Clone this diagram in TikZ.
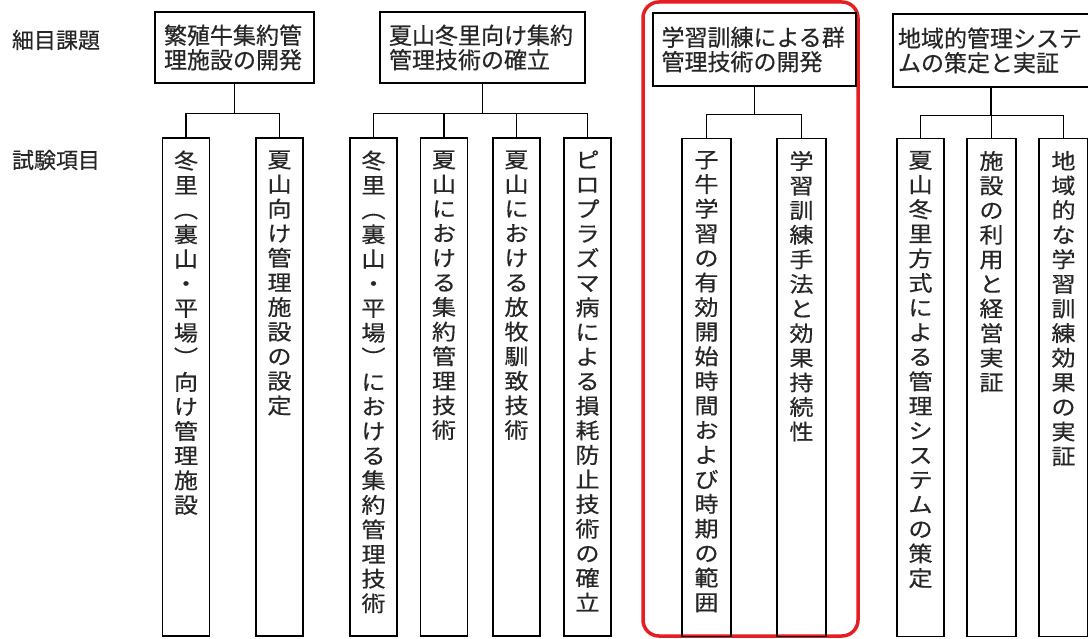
\documentclass[tikz,border=0pt]{standalone}
\usepackage{fontspec}
\setmainfont[FakeBold=0.4]{Noto Sans CJK JP}
\newfontfamily\vfont[FakeStretch=1.12,FakeBold=0.4]{Noto Sans CJK JP}
\let\vtend\relax
\def\vtaux#1{\ifx#1\vtend\else\hbox to 24pt{\hss#1\hss}\expandafter\vtaux\fi}
\newcommand\vt[1]{\vbox{\baselineskip=24.6pt\lineskiplimit=-100pt\lineskip=0pt\vtaux#1\vtend}}
\definecolor{hlred}{RGB}{230,30,36}
\begin{document}
\begin{tikzpicture}[x=1pt,y=-1pt,
  titlebox/.style={draw, line width=1.4pt, inner sep=0pt, align=left,
    font=\fontsize{23}{24.5}\selectfont, text=black!85},
  itembox/.style={draw, line width=1.4pt, inner sep=0pt, minimum width=47pt, minimum height=498pt},
  vtxt/.style={inner sep=0pt, anchor=north, font=\vfont\fontsize{21.5}{24.6}\selectfont, text=black!85},
  rowlabel/.style={inner sep=0pt, font=\fontsize{22}{24}\selectfont, text=black!85},
  conn/.style={line width=1.4pt},
  highlight/.style={draw=hlred, line width=3.5pt, rounded corners=16pt}]
\useasboundingbox (0,0) rectangle (1088,639);
\fill[white] (0,0) rectangle (1088,639);

% row labels
\node[rowlabel] (lab1) at (56,40) {細目課題};
\node[rowlabel] (lab2) at (56,160) {試験項目};

% highlight
\draw[highlight] (643,2) rectangle (858,636);

% title boxes
\node[titlebox, minimum width=159pt, minimum height=71pt, text width=141pt] (t1) at (234.5,47.5) {繁殖牛集約管\\理施設の開発};
\node[titlebox, minimum width=205pt, minimum height=71pt, text width=187pt] (t2) at (482.5,47.5) {夏山冬里向け集約\\管理技術の確立};
\node[titlebox, minimum width=203pt, minimum height=73pt, text width=186pt] (t3) at (754.5,49.5) {学習訓練による群\\管理技術の開発};
\node[titlebox, minimum width=196pt, minimum height=73pt, text width=186pt] (t4) at (991,50.5) {地域的管理システ\\ムの策定と実証};

% item boxes
\node[itembox] (c11) at (186,387) {};
\node[itembox] (c12) at (279.5,387) {};
\node[itembox] (c21) at (373.5,387) {};
\node[itembox] (c22) at (444,387) {};
\node[itembox] (c23) at (516.5,387) {};
\node[itembox] (c24) at (587.5,387) {};
\node[itembox, minimum width=49pt] (c31) at (706.5,387.5) {};
\node[itembox, minimum width=49pt] (c32) at (801.5,387.5) {};
\node[itembox] (c41) at (920.5,387.5) {};
\node[itembox, minimum width=49pt] (c42) at (991.5,387.5) {};
\node[itembox, minimum width=49pt] (c43) at (1063.5,387.5) {};

% vertical texts
\node[vtxt] (c11t) at ([yshift=-13pt]c11.north) {\vt{冬里︵裏山・平場︶向け管理施設}};
\node[vtxt] (c12t) at ([yshift=-13pt]c12.north) {\vt{夏山向け管理施設の設定}};
\node[vtxt] (c21t) at ([yshift=-13pt]c21.north) {\vt{冬里︵裏山・平場︶における集約管理技術}};
\node[vtxt] (c22t) at ([yshift=-13pt]c22.north) {\vt{夏山における集約管理技術}};
\node[vtxt] (c23t) at ([yshift=-13pt]c23.north) {\vt{夏山における放牧馴致技術}};
\node[vtxt] (c24t) at ([yshift=-13pt]c24.north) {\vt{ピロプラズマ病による損耗防止技術の確立}};
\node[vtxt] (c31t) at ([yshift=-13pt]c31.north) {\vt{子牛学習の有効開始時間および時期の範囲}};
\node[vtxt] (c32t) at ([yshift=-13pt]c32.north) {\vt{学習訓練手法と効果持続性}};
\node[vtxt] (c41t) at ([yshift=-13pt]c41.north) {\vt{夏山冬里方式による管理システムの策定}};
\node[vtxt] (c42t) at ([yshift=-13pt]c42.north) {\vt{施設の利用と経営実証}};
\node[vtxt] (c43t) at ([yshift=-13pt]c43.north) {\vt{地域的な学習訓練効果の実証}};

% connectors
\path (t1.south) ++(0,30) coordinate (j1);
\path (t2.south) ++(0,30) coordinate (j2);
\path (t3.south) ++(0,28) coordinate (j3);
\path (t4.south) ++(0,28) coordinate (j4);
\draw[conn] (t1.south) -- (j1);
\draw[conn] (j1) -| (c11.north);
\draw[conn] (j1) -| (c12.north);
\draw[conn] (t2.south) -- (j2);
\draw[conn] (j2) -| (c21.north);
\draw[conn] (j2) -| (c22.north);
\draw[conn] (j2) -| (c23.north);
\draw[conn] (j2) -| (c24.north);
\draw[conn] (t3.south) -- (j3);
\draw[conn] (j3) -| (c31.north);
\draw[conn] (j3) -| (c32.north);
\draw[conn] (t4.south) -- (j4);
\draw[conn] (j4) -| (c41.north);
\draw[conn] (j4) -| (c42.north);
\draw[conn] (j4) -| (c43.north);
\end{tikzpicture}
\end{document}
